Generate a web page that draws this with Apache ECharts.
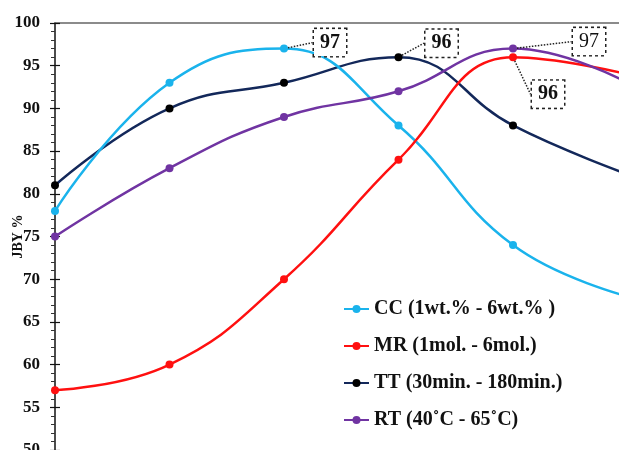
<!DOCTYPE html>
<html>
<head>
<meta charset="utf-8">
<script src="https://cdn.jsdelivr.net/npm/echarts@6/dist/echarts.min.js"></script>
<style>html,body{margin:0;padding:0;background:#fff}#c{width:619px;height:450px}</style>
</head>
<body>
<div id="c"></div>
<script>
const categories = ['1', '2', '3', '4', '5', '6'];
const ccValues = [78, 93, 97, 88, 74, 68];
const mrValues = [57, 60, 70, 84, 96, 94];
const ttValues = [81, 90, 93, 96, 88, 82.3];
const rtValues = [75, 83, 89, 92, 97, 93];
const yTicks = [50, 55, 60, 65, 70, 75, 80, 85, 90, 95, 100];
const seriesNames = ['CC (1wt.% - 6wt.% )', 'MR (1mol. - 6mol.)', 'TT (30min. - 180min.)', 'RT (40˚C - 65˚C)'];
// annotated points: [dataIndex, dx, dy, bold]
const ccNote = [2, 46, -6, true];
const mrNote = [4, 35, 37, true];
const ttNote = [3, 43, -14, true];
const rtNote = [4, 76, -7, false];

const FONT = '"Liberation Serif", "Times New Roman", serif';

function withNote(values, note) {
  return values.map((v, i) => i === note[0]
    ? { value: v, label: { show: true, fontWeight: note[3] ? 'bold' : 'normal' } }
    : v);
}
function layoutFor(note) {
  return function (p) {
    if (p.dataIndex === note[0]) return { dx: note[1], dy: note[2] };
    return {};
  };
}
function mkSeries(name, values, note, lineColor, symColor, z) {
  return {
    name: name,
    type: 'line',
    smooth: 0.45,
    data: withNote(values, note),
    symbol: 'circle',
    symbolSize: 8,
    z: z,
    lineStyle: { color: lineColor, width: 2.5 },
    itemStyle: { color: symColor },
    label: {
      show: false,
      position: 'inside',
      formatter: '{c}',
      fontFamily: FONT,
      fontSize: 20,
      color: '#111',
      backgroundColor: '#fff',
      borderColor: '#222',
      borderWidth: 1.5,
      borderType: 'dotted',
      padding: [4, 6, 3, 6]
    },
    labelLine: { show: true, lineStyle: { color: '#222', width: 1.5, type: 'dotted' } },
    labelLayout: layoutFor(note),
    emphasis: { disabled: true }
  };
}

const chart = echarts.init(document.getElementById('c'));
chart.setOption({
  animation: false,
  backgroundColor: '#fff',
  grid: { left: 55, right: -8.5, top: 23, bottom: 0, containLabel: false, outerBoundsMode: 'none' },
  legend: {
    orient: 'vertical',
    left: 338,
    top: 293,
    itemWidth: 25,
    itemHeight: 10,
    itemGap: 15,
    data: seriesNames,
    textStyle: { fontFamily: FONT, fontSize: 20, fontWeight: 'bold', color: '#111', lineHeight: 22 }
  },
  xAxis: {
    type: 'category',
    data: categories,
    boundaryGap: false,
    position: 'top',
    axisLine: { show: true, lineStyle: { color: '#666', width: 1.5 } },
    axisTick: { show: false },
    axisLabel: { show: false },
    splitLine: { show: false }
  },
  yAxis: [{
    type: 'value',
    min: yTicks[0],
    max: yTicks[yTicks.length - 1],
    interval: 5,
    name: 'JBY %',
    nameLocation: 'middle',
    nameRotate: 90,
    nameGap: 30,
    nameMoveOverlap: false,
    nameTextStyle: { fontFamily: FONT, fontSize: 14, fontWeight: 'bold', color: '#111', padding: [0, 0, 0, 0] },
    axisLine: { show: true, lineStyle: { color: '#111', width: 1.5 } },
    axisTick: { show: true, inside: false, length: 5, lineStyle: { color: '#111', width: 1.2 } },
    minorTick: { show: true, splitNumber: 5, length: 4, lineStyle: { color: '#333', width: 1 } },
    axisLabel: { fontFamily: FONT, fontSize: 17, fontWeight: 'bold', color: '#111', margin: 15 },
    splitLine: { show: false }
  }, {
    type: 'value',
    position: 'left',
    min: yTicks[0],
    max: yTicks[yTicks.length - 1],
    interval: 5,
    axisLine: { show: false },
    axisTick: { show: true, inside: true, length: 5, lineStyle: { color: '#111', width: 1.2 } },
    axisLabel: { show: false },
    splitLine: { show: false }
  }],
  series: [
    mkSeries(seriesNames[0], ccValues, ccNote, '#1AB3EC', '#1AB3EC', 3),
    mkSeries(seriesNames[1], mrValues, mrNote, '#FF1010', '#FF1010', 4),
    mkSeries(seriesNames[2], ttValues, ttNote, '#13285A', '#000000', 2),
    mkSeries(seriesNames[3], rtValues, rtNote, '#7034A2', '#7034A2', 5)
  ]
});
</script>
</body>
</html>
